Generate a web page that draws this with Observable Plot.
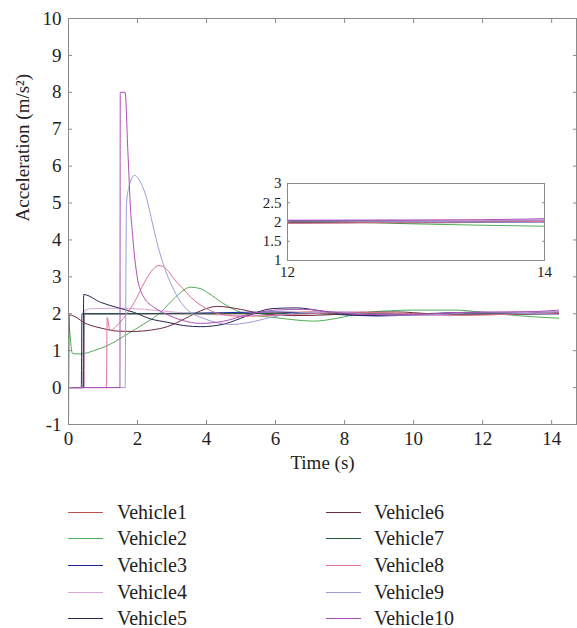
<!DOCTYPE html>
<html><head><meta charset="utf-8">
<script src="https://cdn.jsdelivr.net/npm/d3@7"></script>
<script src="https://cdn.jsdelivr.net/npm/@observablehq/plot@0.6"></script>
<style>
body{margin:0;background:#fff;}
#wrap{position:relative;width:577px;height:628px;font-family:"Liberation Serif","DejaVu Serif",serif;color:#222;overflow:hidden;}
#main{position:absolute;left:0;top:0;}
#inset{position:absolute;left:257px;top:173px;}
.sw{position:absolute;width:35px;height:0;border-top:1.5px solid #000;}
.lt{position:absolute;font-size:20px;line-height:22px;white-space:nowrap;}
</style></head>
<body><div id="wrap"><div id="main"></div><div id="inset"></div><div id="legend"></div></div>
<script>
const vehicleNames = ["Vehicle1","Vehicle2","Vehicle3","Vehicle4","Vehicle5","Vehicle6","Vehicle7","Vehicle8","Vehicle9","Vehicle10"];
const vehicleColors = ["#c0504d","#4fae55","#1f2a9c","#d9a6d9","#262652","#6e2a3f","#1f5a35","#e0708f","#9d9dd8","#b04cb8"];

const vehicle1 = [[0,0],[0.45,0],[0.46,2.0],[3,2.0],[5,2.0],[6,2.02],[7,2.05],[8,2.03],[9,1.99],[10,1.96],[11,1.97],[12,2.0],[13,2.02],[14.2,2.0]];
const vehicle2 = [[0,2.0],[0.12,0.92],[0.35,0.91],[0.73,1.0],[1.22,1.18],[1.7,1.45],[2.18,1.72],[2.67,2.04],[3.1,2.45],[3.54,2.72],[3.83,2.68],[4.02,2.58],[4.5,2.27],[4.99,2.04],[5.47,1.95],[5.95,1.9],[6.5,1.84],[7.1,1.8],[7.8,1.88],[8.5,2.02],[9.3,2.08],[10.0,2.1],[11.2,2.1],[12,2.04],[13,1.95],[14.2,1.88]];
const vehicle3 = [[0,0],[0.37,0],[0.39,2.0],[1.5,2.0],[3,2.01],[4.5,2.03],[6,2.05],[7,2.02],[8,1.97],[9,1.94],[10,1.97],[11,2.02],[12,2.04],[13,2.03],[14.2,2.05]];
const vehicle4 = [[0,0],[0.45,0],[0.47,2.1],[0.7,2.14],[1.5,2.15],[2.2,2.12],[3.0,2.05],[4.0,1.98],[5,1.96],[6,1.98],[7,2.03],[8,2.06],[9,2.02],[10,1.97],[11,1.95],[12,1.99],[13,2.03],[14.2,2.05]];
const vehicle5 = [[0,0],[0.42,0],[0.44,2.52],[0.93,2.31],[1.41,2.17],[1.89,2.04],[2.38,1.86],[2.86,1.77],[3.34,1.68],[3.83,1.65],[4.5,1.72],[5.2,1.95],[5.9,2.14],[6.6,2.16],[7.3,2.08],[8,1.98],[9,1.95],[10,1.99],[11,2.02],[12,2.0],[13,1.98],[14.2,2.02]];
const vehicle6 = [[0,-1],[0.02,1.97],[0.54,1.72],[1.0,1.6],[1.41,1.53],[1.89,1.52],[2.4,1.56],[2.86,1.65],[3.4,1.88],[3.83,2.08],[4.3,2.2],[4.99,2.12],[5.6,2.0],[6.5,1.95],[7.5,1.97],[8.5,2.04],[9.5,2.05],[10.5,2.0],[11.5,1.97],[12.5,1.98],[13.5,2.01],[14.2,2.0]];
const vehicle7 = [[0,0],[0.43,0],[0.45,2.0],[2,2.0],[4,2.0],[6,2.01],[8,2.0],[10,1.99],[12,2.0],[14.2,1.99]];
const vehicle8 = [[0,0],[1.1,0],[1.12,1.9],[1.2,1.55],[1.5,1.78],[1.9,2.3],[2.2,2.85],[2.4,3.15],[2.62,3.31],[2.85,3.2],[3.05,2.95],[3.3,2.7],[3.54,2.45],[4.02,2.13],[4.5,1.97],[5,1.93],[5.8,1.95],[6.5,1.98],[7.5,2.02],[8.5,2.04],[9.5,2.02],[10.5,1.98],[11.5,1.96],[12.5,1.98],[13.5,2.0],[14.2,2.02]];
const vehicle9 = [[0,0],[1.64,0],[1.68,4.98],[1.75,5.43],[1.91,5.75],[2.09,5.56],[2.28,5.07],[2.42,4.5],[2.6,3.8],[2.8,3.2],[3.0,2.75],[3.25,2.32],[3.5,2.06],[3.9,1.88],[4.3,1.76],[4.7,1.71],[5.2,1.76],[5.95,1.92],[6.6,2.02],[7.5,2.05],[8.5,2.0],[9.5,1.96],[10.5,1.97],[11.5,2.02],[12.5,2.03],[13.5,2.0],[14.2,1.98]];
const vehicle10 = [[0,0],[1.49,0],[1.5,8],[1.64,8],[1.72,6.4],[1.8,4.8],[1.86,4.1],[1.92,3.5],[2.0,2.95],[2.1,2.6],[2.2,2.42],[2.47,2.18],[2.86,1.98],[3.3,1.82],[3.83,1.74],[4.5,1.8],[5.2,1.98],[6.0,2.1],[6.8,2.12],[7.6,2.05],[8.5,1.98],[9.5,1.97],[10.5,2.0],[11.5,2.04],[12.5,2.05],[13.5,2.06],[14.2,2.1]];

const xTicks = [0,2,4,6,8,10,12,14];
const yTicks = [-1,0,1,2,3,4,5,6,7,8,9,10];
const insetXTicks = [12,14];
const insetYTicks = [1,1.5,2,2.5,3];
const xLabel = "Time (s)";
const yLabel = "Acceleration (m/s²)";

const series = [vehicle1,vehicle2,vehicle3,vehicle4,vehicle5,vehicle6,vehicle7,vehicle8,vehicle9,vehicle10];
const rows = series.flatMap((s,i)=>s.map(([t,a])=>({t,a,name:vehicleNames[i]})));
const fmt = d => `${d}`;
const gray = "#8a8a8a";

const main = Plot.plot({
  width:577, height:482, marginLeft:68, marginRight:1, marginTop:18, marginBottom:58,
  style:{fontFamily:"Liberation Serif, DejaVu Serif, serif", fontSize:"19px", color:"#222", background:"white", overflow:"visible"},
  x:{domain:[0,14.72]}, y:{domain:[-1,10]},
  color:{domain:vehicleNames, range:vehicleColors},
  marks:[
    Plot.lineY(rows,{x:"t",y:"a",z:"name",stroke:"name",strokeWidth:1,curve:"monotone-x"}),
    Plot.frame({stroke:gray}),
    Plot.axisX(xTicks,{anchor:"bottom",tickSize:-4,fill:"none",stroke:gray,label:null}),
    Plot.axisX(xTicks,{anchor:"top",tickSize:-4,fill:"none",stroke:gray,label:null}),
    Plot.axisY(yTicks,{anchor:"left",tickSize:-4,fill:"none",stroke:gray,label:null}),
    Plot.axisY(yTicks,{anchor:"right",tickSize:-4,fill:"none",stroke:gray,label:null}),
    Plot.axisX(xTicks,{anchor:"bottom",tickSize:0,tickPadding:7,stroke:"none",label:null,tickFormat:fmt}),
    Plot.axisY(yTicks,{anchor:"left",tickSize:0,tickPadding:7,stroke:"none",label:null,tickFormat:fmt}),
    Plot.text([xLabel],{frameAnchor:"bottom",dy:44,fontSize:19}),
    Plot.text([yLabel],{frameAnchor:"left",dx:-46,rotate:-90,fontSize:19})
  ]
});
document.getElementById("main").append(main);

const inset = Plot.plot({
  width:297, height:109, marginLeft:30, marginRight:10, marginTop:10, marginBottom:22,
  style:{fontFamily:"Liberation Serif, DejaVu Serif, serif", fontSize:"15px", color:"#222", background:"white", overflow:"visible"},
  x:{domain:[12,14]}, y:{domain:[1,3]},
  color:{domain:vehicleNames, range:vehicleColors},
  marks:[
    Plot.lineY(rows.filter(d=>d.t>=10.5),{x:"t",y:"a",z:"name",stroke:"name",strokeWidth:1,curve:"monotone-x",clip:true}),
    Plot.frame({stroke:gray}),
    Plot.axisY(insetYTicks,{anchor:"left",tickSize:-3,fill:"none",stroke:gray,label:null}),
    Plot.axisY(insetYTicks,{anchor:"right",tickSize:-3,fill:"none",stroke:gray,label:null}),
    Plot.axisY(insetYTicks,{anchor:"left",tickSize:0,tickPadding:6,stroke:"none",label:null,tickFormat:fmt}),
    Plot.axisX(insetXTicks,{anchor:"bottom",tickSize:0,tickPadding:6,stroke:"none",label:null,tickFormat:fmt})
  ]
});
document.getElementById("inset").append(inset);

const legend = document.getElementById("legend");
const rowY = [513,539,566,593,619];
vehicleNames.forEach((n,i)=>{
  const col = Math.floor(i/5), r = i%5;
  const sw = document.createElement("div");
  sw.className = "sw";
  sw.style.left = (col ? 326 : 68) + "px";
  sw.style.top = (rowY[r]-1) + "px";
  sw.style.borderTopColor = vehicleColors[i];
  const tx = document.createElement("div");
  tx.className = "lt";
  tx.style.left = (col ? 374 : 117) + "px";
  tx.style.top = (rowY[r]-12) + "px";
  tx.textContent = n;
  legend.append(sw, tx);
});
</script>
</body></html>
